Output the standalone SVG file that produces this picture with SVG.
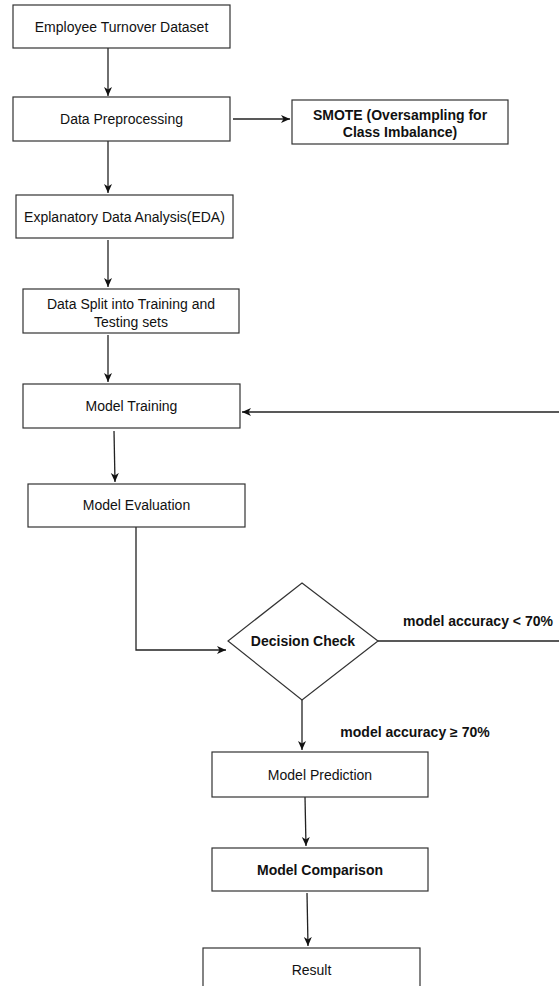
<svg xmlns="http://www.w3.org/2000/svg" width="559" height="986" viewBox="0 0 559 986">
<style>
.box{fill:#fff;stroke:#333;stroke-width:1.2}
.t{font-family:"Liberation Sans",Arial,sans-serif;font-size:14px;fill:#111;text-anchor:middle;dominant-baseline:central}
.b{font-weight:bold}
.c{fill:none;stroke:#222;stroke-width:1.3}
</style>
<defs>
<marker id="ah" markerWidth="10" markerHeight="10" refX="9" refY="4" orient="auto" markerUnits="userSpaceOnUse">
<path d="M0,0 L9,4 L0,8 L2.5,4 z" fill="#111"/>
</marker>
</defs>
<rect width="559" height="986" fill="#fff"/>
<g id="connectors">
<path class="c" d="M108,48 V96" marker-end="url(#ah)"/>
<path class="c" d="M233,119 H290" marker-end="url(#ah)"/>
<path class="c" d="M108,141 V193" marker-end="url(#ah)"/>
<path class="c" d="M108,240 V287" marker-end="url(#ah)"/>
<path class="c" d="M108,335 V382" marker-end="url(#ah)"/>
<path class="c" d="M114,431 L115,482" marker-end="url(#ah)"/>
<path class="c" d="M136,527 V650 H226" marker-end="url(#ah)"/>
<path class="c" d="M378,641 H559"/>
<path class="c" d="M559,412 H242" marker-end="url(#ah)"/>
<path class="c" d="M302,700 V750" marker-end="url(#ah)"/>
<path class="c" d="M305,797 L306,846" marker-end="url(#ah)"/>
<path class="c" d="M307,893 L308,946" marker-end="url(#ah)"/>
<text class="t b" x="478" y="621">model accuracy &lt; 70%</text>
<text class="t b" x="415" y="732">model accuracy ≥ 70%</text>
</g>
<g id="dataset">
<rect class="box" x="13" y="5" width="217" height="43"/>
<text class="t" x="121.5" y="27">Employee Turnover Dataset</text>
</g>
<g id="preprocessing">
<rect class="box" x="13" y="97" width="217" height="44"/>
<text class="t" x="121.5" y="119">Data Preprocessing</text>
</g>
<g id="smote">
<rect class="box" x="292" y="100" width="216" height="44"/>
<text class="t b" x="400" y="115">SMOTE (Oversampling for</text>
<text class="t b" x="400" y="132">Class Imbalance)</text>
</g>
<g id="eda">
<rect class="box" x="16" y="195" width="217" height="43"/>
<text class="t" x="124.5" y="217">Explanatory Data Analysis(EDA)</text>
</g>
<g id="split">
<rect class="box" x="23" y="289" width="216" height="44"/>
<text class="t" x="131" y="304">Data Split into Training and</text>
<text class="t" x="131" y="322">Testing sets</text>
</g>
<g id="training">
<rect class="box" x="23" y="384" width="217" height="44"/>
<text class="t" x="131.5" y="406">Model Training</text>
</g>
<g id="evaluation">
<rect class="box" x="28" y="484" width="217" height="43"/>
<text class="t" x="136.5" y="505">Model Evaluation</text>
</g>
<g id="decision">
<polygon class="box" points="302,583 378,641 302,700 228,641"/>
<text class="t b" x="303" y="641">Decision Check</text>
</g>
<g id="prediction">
<rect class="box" x="212" y="752" width="216" height="45"/>
<text class="t" x="320" y="775">Model Prediction</text>
</g>
<g id="comparison">
<rect class="box" x="212" y="848" width="216" height="43"/>
<text class="t b" x="320" y="870">Model Comparison</text>
</g>
<g id="result">
<rect class="box" x="203" y="948" width="217" height="44"/>
<text class="t" x="311.5" y="970">Result</text>
</g>
</svg>
